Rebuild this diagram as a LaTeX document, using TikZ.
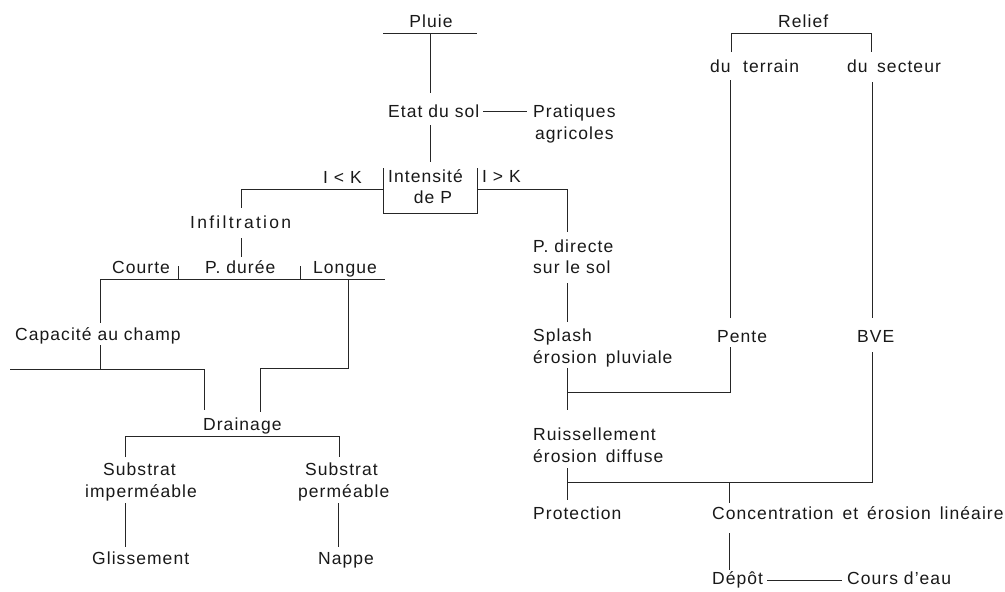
\documentclass[tikz,border=0pt]{standalone}
\usepackage{fontspec}
\setmainfont{Liberation Sans}[LetterSpace=6]
\begin{document}
\begin{tikzpicture}[x=1pt,y=-1pt,
  every node/.style={inner sep=0pt, font=\fontsize{17.5}{22}\selectfont, text=black!90},
  lbl/.style={anchor=base west},
  ctr/.style={anchor=base},
  ln/.style={line width=1pt, black!85, line join=miter}]
\useasboundingbox[fill=white] (0,0) rectangle (1005,592);

% ---------- text nodes ----------
\node[ctr] (pluie) at (431,27) {Pluie};
\node[lbl] (etat) at (388,117) {Etat du sol};
\node[lbl] (prat1) at (533,117) {Pratiques};
\node[lbl] (prat2) at (535,139) {agricoles};
\node[lbl] (ilk) at (323,183) {I < K};
\node[lbl] (int1) at (388,182) {Intensité};
\node[ctr] (int2) at (433,203) {de P};
\node[lbl] (igk) at (482,182) {I > K};
\node[lbl] (infil) at (190,228) {\addfontfeature{LetterSpace=13}Infiltration};
\node[lbl] (courte) at (112,273) {Courte};
\node[lbl] (pduree) at (205,273) {P. durée};
\node[lbl] (longue) at (313,273) {Longue};
\node[lbl] (capa) at (15,340) {Capacité au champ};
\node[lbl] (drain) at (203,430) {Drainage};
\node[lbl] (sub1) at (103,475) {Substrat};
\node[lbl] (imp) at (85,497) {imperméable};
\node[lbl] (sub2) at (305,475) {Substrat};
\node[lbl] (perm) at (298,497) {perméable};
\node[lbl] (gliss) at (92,564) {Glissement};
\node[lbl] (nappe) at (318,564) {Nappe};

\node[lbl] (relief) at (778,27) {Relief};
\node[lbl] (du1) at (710,72) {du};
\node[lbl] (terrain) at (743,72) {terrain};
\node[lbl] (du2) at (847,72) {du};
\node[lbl] (secteur) at (877,72) {secteur};
\node[lbl] (pdir) at (533,252) {P. directe};
\node[lbl] (surle) at (533,273) {sur le sol};
\node[lbl] (splash) at (533,341) {Splash};
\node[lbl] (erpl) at (533,363) {érosion\hspace{3pt} pluviale};
\node[lbl] (pente) at (717,342) {Pente};
\node[lbl] (bve) at (857,342) {BVE};
\node[lbl] (ruis) at (533,440) {Ruissellement};
\node[lbl] (erdif) at (533,462) {érosion\hspace{3pt} diffuse};
\node[lbl] (prot) at (533,519) {Protection};
\node[lbl] (conc) at (712,519) {Concentration\hspace{3pt} et\hspace{3pt} érosion\hspace{3pt} linéaire};
\node[lbl] (depot) at (712,584) {Dépôt};
\node[lbl] (cours) at (847,584) {Cours d'eau};

% ---------- junction coordinates ----------
\coordinate (pu1) at (383,33);  \coordinate (pu2) at (477,33);
\coordinate (pa) at (430,33);   \coordinate (pb) at (430,93);
\coordinate (ea) at (430,125);  \coordinate (eb) at (430,162);
\coordinate (bx1) at (383,168); \coordinate (bx2) at (383,213);
\coordinate (bx3) at (477,213); \coordinate (bx4) at (477,168);
\coordinate (bl) at (383,189);  \coordinate (br) at (477,189);
\coordinate (l1) at (241,189);  \coordinate (l2) at (241,208);
\coordinate (r1) at (567,189);  \coordinate (r2) at (567,232);
\coordinate (i1) at (241,238);  \coordinate (i2) at (241,257);
\coordinate (t1a) at (178,266); \coordinate (t1b) at (178,279);
\coordinate (t2a) at (300,266); \coordinate (t2b) at (300,279);
\coordinate (h1) at (100,279);  \coordinate (h2) at (385,279);
\coordinate (c1) at (100,323);
\coordinate (g1) at (348,279);  \coordinate (g2) at (348,368);
\coordinate (g3) at (260,368);  \coordinate (g4) at (260,412);
\coordinate (c2) at (100,345);  \coordinate (c3) at (100,369);
\coordinate (f1) at (10,369);   \coordinate (f2) at (204,369);
\coordinate (f3) at (204,410);
\coordinate (d1) at (125,457);  \coordinate (d2) at (125,436);
\coordinate (d3) at (339,436);  \coordinate (d4) at (339,457);
\coordinate (s1) at (125,503);  \coordinate (s2) at (125,547);
\coordinate (s3) at (338,503);  \coordinate (s4) at (338,547);
\coordinate (p1) at (567,283);  \coordinate (p2) at (567,322);
\coordinate (sp1) at (567,368); \coordinate (sp2) at (567,410);
\coordinate (sp3) at (567,392); \coordinate (sp4) at (730,392);
\coordinate (sp5) at (730,347);
\coordinate (te1) at (730,318); \coordinate (te2) at (730,80);
\coordinate (rb1) at (731,52);  \coordinate (rb2) at (731,33);
\coordinate (rb3) at (871,33);  \coordinate (rb4) at (871,52);
\coordinate (se1) at (872,82);  \coordinate (se2) at (872,318);
\coordinate (bv1) at (872,352); \coordinate (bv2) at (872,482);
\coordinate (bv3) at (567,482);
\coordinate (ru1) at (567,468); \coordinate (ru2) at (567,500);
\coordinate (co1) at (729,482); \coordinate (co2) at (729,503);
\coordinate (dp1) at (729,533); \coordinate (dp2) at (729,570);

% ---------- connectors ----------
\draw[ln] (pu1) -- (pu2);
\draw[ln] (pa) -- (pb);
\draw[ln] ([xshift=4pt,yshift=-1pt]etat.east) -- ([xshift=-6pt,yshift=-1pt]etat.east -| prat1.west);
\draw[ln] (ea) -- (eb);
\draw[ln] (bx1) -- (bx2) -- (bx3) -- (bx4);
\draw[ln] (bl) -- (l1) -- (l2);
\draw[ln] (br) -- (r1) -- (r2);
\draw[ln] (i1) -- (i2);
\draw[ln] (t1a) -- (t1b);
\draw[ln] (t2a) -- (t2b);
\draw[ln] (h1) -- (h2);
\draw[ln] (h1) -- (c1);
\draw[ln] (g1) -- (g2) -- (g3) -- (g4);
\draw[ln] (c2) -- (c3);
\draw[ln] (f1) -- (f2) -- (f3);
\draw[ln] (d1) -- (d2) -- (d3) -- (d4);
\draw[ln] (s1) -- (s2);
\draw[ln] (s3) -- (s4);
\draw[ln] (p1) -- (p2);
\draw[ln] (sp1) -- (sp2);
\draw[ln] (sp3) -- (sp4) -- (sp5);
\draw[ln] (te1) -- (te2);
\draw[ln] (rb1) -- (rb2) -- (rb3) -- (rb4);
\draw[ln] (se1) -- (se2);
\draw[ln] (bv1) -- (bv2) -- (bv3);
\draw[ln] (ru1) -- (ru2);
\draw[ln] (co1) -- (co2);
\draw[ln] (dp1) -- (dp2);
\draw[ln] ([xshift=4pt,yshift=-1pt]depot.east) -- ([xshift=-5pt,yshift=-1pt]depot.east -| cours.west);
\end{tikzpicture}
\end{document}
